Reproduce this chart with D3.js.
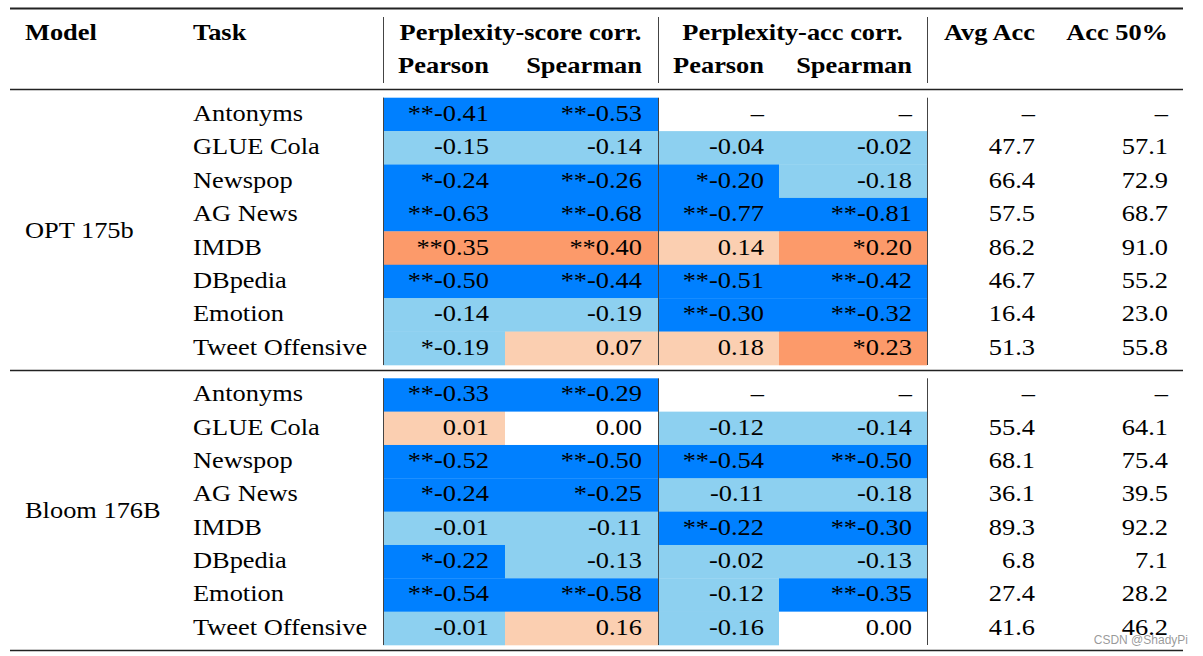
<!DOCTYPE html>
<html>
<head>
<meta charset="utf-8">
<script src="https://cdn.jsdelivr.net/npm/d3@7/dist/d3.min.js"></script>
<style>
  html, body { margin: 0; padding: 0; background: #fff; }
  svg { display: block; }
  text { font-family: "Liberation Serif", "Times New Roman", serif; fill: #000; }
</style>
</head>
<body>
<svg id="chart" width="1203" height="656"></svg>
<script>
// ---------------- DATA ----------------
const models = ["OPT 175b", "Bloom 176B"];
const tasks = ["Antonyms", "GLUE Cola", "Newspop", "AG News", "IMDB", "DBpedia", "Emotion", "Tweet Offensive"];
const groupHeaders = ["Perplexity-score corr.", "Perplexity-acc corr."];
const subHeaders = ["Pearson", "Spearman", "Pearson", "Spearman"];
const topHeaders = ["Model", "Task", "Avg Acc", "Acc 50%"];

// correlation values (null = not available) and significance stars
const optScorePearson   = [-0.41, -0.15, -0.24, -0.63, 0.35, -0.50, -0.14, -0.19];
const optScorePearsonS  = ["**", "", "*", "**", "**", "**", "", "*"];
const optScoreSpearman  = [-0.53, -0.14, -0.26, -0.68, 0.40, -0.44, -0.19, 0.07];
const optScoreSpearmanS = ["**", "", "**", "**", "**", "**", "", ""];
const optAccPearson     = [null, -0.04, -0.20, -0.77, 0.14, -0.51, -0.30, 0.18];
const optAccPearsonS    = ["", "", "*", "**", "", "**", "**", ""];
const optAccSpearman    = [null, -0.02, -0.18, -0.81, 0.20, -0.42, -0.32, 0.23];
const optAccSpearmanS   = ["", "", "", "**", "*", "**", "**", "*"];
const optAvgAcc         = [null, 47.7, 66.4, 57.5, 86.2, 46.7, 16.4, 51.3];
const optAcc50          = [null, 57.1, 72.9, 68.7, 91.0, 55.2, 23.0, 55.8];

const bloomScorePearson   = [-0.33, 0.01, -0.52, -0.24, -0.01, -0.22, -0.54, -0.01];
const bloomScorePearsonS  = ["**", "", "**", "*", "", "*", "**", ""];
const bloomScoreSpearman  = [-0.29, 0.00, -0.50, -0.25, -0.11, -0.13, -0.58, 0.16];
const bloomScoreSpearmanS = ["**", "", "**", "*", "", "", "**", ""];
const bloomAccPearson     = [null, -0.12, -0.54, -0.11, -0.22, -0.02, -0.12, -0.16];
const bloomAccPearsonS    = ["", "", "**", "", "**", "", "", ""];
const bloomAccSpearman    = [null, -0.14, -0.50, -0.18, -0.30, -0.13, -0.35, 0.00];
const bloomAccSpearmanS   = ["", "", "**", "", "**", "", "**", ""];
const bloomAvgAcc         = [null, 55.4, 68.1, 36.1, 89.3, 6.8, 27.4, 41.6];
const bloomAcc50          = [null, 64.1, 75.4, 39.5, 92.2, 7.1, 28.2, 46.2];

const watermark = "CSDN @ShadyPi";

// ---------------- LAYOUT ----------------
const svg = d3.select("#chart");
const SX = 1.1;           // horizontal text stretch of the original
const FS = 24;

const colorScale = d3.scaleThreshold()
  .domain([-0.195, -0.0001, 0.0001, 0.195])
  .range(["#0080ff", "#8dd0f0", "#ffffff", "#fbcfb1", "#fc9a6a"]);

// column boundaries [left, right] and text right anchor
const corrCols = [
  { x0: 383, x1: 505, tx: 489 },
  { x0: 505, x1: 658, tx: 642 },
  { x0: 658, x1: 779, tx: 764 },
  { x0: 779, x1: 927, tx: 912 }
];
const accCols = [{ tx: 1035 }, { tx: 1168 }];

const blocks = [
  { model: models[0], y0: 97.7, y1: 365,
    corr: [[optScorePearson, optScorePearsonS], [optScoreSpearman, optScoreSpearmanS],
           [optAccPearson, optAccPearsonS], [optAccSpearman, optAccSpearmanS]],
    acc: [optAvgAcc, optAcc50] },
  { model: models[1], y0: 378.3, y1: 645,
    corr: [[bloomScorePearson, bloomScorePearsonS], [bloomScoreSpearman, bloomScoreSpearmanS],
           [bloomAccPearson, bloomAccPearsonS], [bloomAccSpearman, bloomAccSpearmanS]],
    acc: [bloomAvgAcc, bloomAcc50] }
];

function txt(g, x, y, s, anchor, bold) {
  return g.append("text")
    .attr("transform", `translate(${x},${y}) scale(${SX},1)`)
    .attr("text-anchor", anchor || "start")
    .style("font-size", FS + "px")
    .style("font-weight", bold ? "bold" : "normal")
    .text(s);
}

const fmt = v => d3.format(".2f")(v).replace("\u2212", "-");

blocks.forEach(b => {
  const y = d3.scaleBand().domain(tasks).range([b.y0, b.y1]);
  const g = svg.append("g");
  // cells
  b.corr.forEach((pair, ci) => {
    const [vals] = pair;
    const col = corrCols[ci];
    tasks.forEach((t, i) => {
      const v = vals[i];
      g.append("rect")
        .attr("x", col.x0).attr("width", col.x1 - col.x0)
        .attr("y", y(t)).attr("height", y.bandwidth() + 0.3)
        .attr("fill", v == null ? "#ffffff" : colorScale(v));
    });
  });
  // vertical rules in the data block
  [383, 658, 927].forEach(x => {
    g.append("line").attr("x1", x + 0.5).attr("x2", x + 0.5)
      .attr("y1", b.y0).attr("y2", b.y1)
      .attr("stroke", "#444").attr("stroke-width", 1);
  });
  // texts
  const cy = t => y(t) + y.bandwidth() / 2 + 6.5;
  tasks.forEach((t, i) => {
    txt(g, 193, cy(t), t, "start");
    b.corr.forEach((pair, ci) => {
      const v = pair[0][i];
      const s = v == null ? "\u2013" : pair[1][i] + fmt(v);
      txt(g, corrCols[ci].tx, cy(t), s, "end");
    });
    b.acc.forEach((arr, ai) => {
      const v = arr[i];
      txt(g, accCols[ai].tx, cy(t), v == null ? "\u2013" : v.toFixed(1), "end");
    });
  });
  txt(g, 25, (b.y0 + b.y1) / 2 + 6.5, b.model, "start");
});

// header
const h = svg.append("g");
txt(h, 25, 40, topHeaders[0], "start", true);
txt(h, 193, 40, topHeaders[1], "start", true);
txt(h, 520.5, 40, groupHeaders[0], "middle", true);
txt(h, 792.5, 40, groupHeaders[1], "middle", true);
txt(h, 1035, 40, topHeaders[2], "end", true);
txt(h, 1168, 40, topHeaders[3], "end", true);
subHeaders.forEach((s, i) => txt(h, corrCols[i].tx, 73, s, "end", true));
[383, 658, 927].forEach(x => {
  h.append("line").attr("x1", x + 0.5).attr("x2", x + 0.5)
    .attr("y1", 17).attr("y2", 83).attr("stroke", "#444").attr("stroke-width", 1);
});

// horizontal rules
[[8.5, 2], [89.5, 1.3], [370.5, 1.6], [650.5, 1.5]].forEach(([yy, w]) => {
  svg.append("line").attr("x1", 10).attr("x2", 1183)
    .attr("y1", yy).attr("y2", yy)
    .attr("stroke", "#222").attr("stroke-width", w);
});

// watermark
svg.append("text")
  .attr("x", 1188).attr("y", 644)
  .attr("text-anchor", "end")
  .style("font-family", "'Liberation Sans', sans-serif")
  .style("font-size", "12px")
  .style("fill", "rgba(120,120,120,0.75)")
  .text(watermark);
</script>
</body>
</html>
